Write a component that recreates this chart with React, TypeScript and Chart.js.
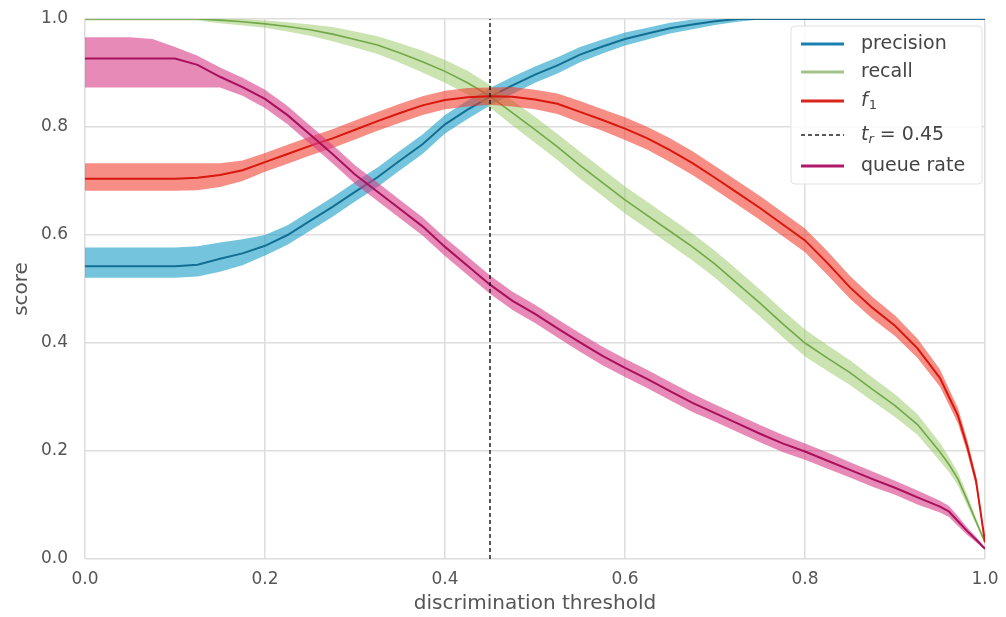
import React, { useEffect, useRef } from "react";
import { Chart, registerables } from "chart.js";

Chart.register(...registerables);

// ---------- data ----------
const thresholds = [0, 0.025, 0.05, 0.075, 0.1, 0.125, 0.15, 0.175, 0.2, 0.225, 0.25, 0.275, 0.3, 0.325, 0.35, 0.375, 0.4, 0.425, 0.45, 0.475, 0.5, 0.525, 0.55, 0.575, 0.6, 0.625, 0.65, 0.675, 0.7, 0.725, 0.75, 0.775, 0.8, 0.825, 0.85, 0.875, 0.9, 0.925, 0.95, 0.96, 0.97, 0.98, 0.99, 1.0];

const precision = [0.542, 0.542, 0.542, 0.542, 0.542, 0.545, 0.556, 0.566, 0.58, 0.6, 0.626, 0.652, 0.68, 0.707, 0.738, 0.768, 0.805, 0.832, 0.856, 0.877, 0.897, 0.914, 0.934, 0.949, 0.963, 0.973, 0.983, 0.99, 0.996, 1, 1, 1, 1, 1, 1, 1, 1, 1, 1, 1, 1, 1, 1, 1];
const precisionUpper = [0.577, 0.577, 0.577, 0.577, 0.577, 0.579, 0.586, 0.592, 0.6, 0.618, 0.644, 0.67, 0.698, 0.725, 0.756, 0.786, 0.822, 0.849, 0.872, 0.893, 0.912, 0.929, 0.948, 0.962, 0.975, 0.984, 0.993, 0.999, 1, 1, 1, 1, 1, 1, 1, 1, 1, 1, 1, 1, 1, 1, 1, 1];
const precisionLower = [0.521, 0.521, 0.521, 0.521, 0.521, 0.523, 0.532, 0.544, 0.562, 0.582, 0.608, 0.634, 0.662, 0.689, 0.72, 0.75, 0.788, 0.815, 0.84, 0.861, 0.882, 0.899, 0.92, 0.936, 0.951, 0.962, 0.973, 0.981, 0.989, 0.995, 0.999, 1, 1, 1, 1, 1, 1, 1, 1, 1, 1, 1, 1, 1];

const recall = [1, 1, 1, 1, 1, 1, 0.998, 0.995, 0.991, 0.986, 0.98, 0.972, 0.962, 0.952, 0.937, 0.921, 0.903, 0.882, 0.857, 0.826, 0.795, 0.763, 0.729, 0.697, 0.665, 0.636, 0.607, 0.578, 0.546, 0.51, 0.474, 0.436, 0.4, 0.372, 0.345, 0.314, 0.284, 0.249, 0.198, 0.175, 0.148, 0.11, 0.07, 0.031];
const recallUpper = [1, 1, 1, 1, 1, 1, 1, 1, 0.997, 0.994, 0.99, 0.985, 0.977, 0.968, 0.955, 0.941, 0.924, 0.904, 0.878, 0.849, 0.819, 0.787, 0.754, 0.722, 0.69, 0.661, 0.632, 0.603, 0.571, 0.535, 0.499, 0.461, 0.425, 0.396, 0.368, 0.336, 0.305, 0.268, 0.215, 0.189, 0.16, 0.12, 0.076, 0.033];
const recallLower = [0.997, 0.997, 0.997, 0.997, 0.997, 0.997, 0.992, 0.988, 0.984, 0.977, 0.969, 0.959, 0.947, 0.935, 0.919, 0.901, 0.882, 0.86, 0.836, 0.803, 0.771, 0.739, 0.704, 0.672, 0.64, 0.611, 0.582, 0.553, 0.521, 0.485, 0.449, 0.411, 0.375, 0.348, 0.322, 0.292, 0.263, 0.23, 0.181, 0.161, 0.136, 0.1, 0.064, 0.029];

const f1 = [0.704, 0.704, 0.704, 0.704, 0.704, 0.706, 0.711, 0.72, 0.735, 0.75, 0.765, 0.779, 0.795, 0.811, 0.826, 0.84, 0.85, 0.855, 0.857, 0.856, 0.851, 0.843, 0.828, 0.813, 0.797, 0.779, 0.757, 0.733, 0.706, 0.678, 0.65, 0.62, 0.59, 0.548, 0.503, 0.465, 0.432, 0.39, 0.335, 0.3, 0.265, 0.21, 0.145, 0.031];
const f1Upper = [0.733, 0.733, 0.733, 0.733, 0.733, 0.733, 0.733, 0.738, 0.752, 0.767, 0.782, 0.796, 0.812, 0.828, 0.843, 0.857, 0.867, 0.872, 0.873, 0.874, 0.869, 0.862, 0.848, 0.833, 0.818, 0.8, 0.779, 0.755, 0.728, 0.7, 0.672, 0.642, 0.612, 0.57, 0.524, 0.485, 0.451, 0.408, 0.351, 0.315, 0.279, 0.222, 0.155, 0.034];
const f1Lower = [0.682, 0.682, 0.682, 0.682, 0.682, 0.683, 0.689, 0.7, 0.717, 0.732, 0.747, 0.761, 0.777, 0.793, 0.808, 0.822, 0.833, 0.838, 0.841, 0.838, 0.833, 0.824, 0.808, 0.793, 0.776, 0.758, 0.735, 0.711, 0.684, 0.656, 0.628, 0.598, 0.568, 0.526, 0.482, 0.445, 0.413, 0.372, 0.319, 0.285, 0.251, 0.198, 0.135, 0.028];

const queueRate = [0.927, 0.927, 0.927, 0.927, 0.927, 0.915, 0.893, 0.874, 0.852, 0.822, 0.786, 0.75, 0.712, 0.68, 0.648, 0.616, 0.578, 0.543, 0.508, 0.478, 0.454, 0.427, 0.401, 0.376, 0.354, 0.333, 0.311, 0.289, 0.27, 0.251, 0.232, 0.214, 0.199, 0.182, 0.165, 0.148, 0.132, 0.114, 0.097, 0.088, 0.07, 0.052, 0.036, 0.019];
const queueUpper = [0.966, 0.966, 0.966, 0.963, 0.948, 0.932, 0.91, 0.891, 0.869, 0.839, 0.803, 0.767, 0.729, 0.697, 0.665, 0.633, 0.595, 0.56, 0.525, 0.495, 0.471, 0.444, 0.418, 0.393, 0.371, 0.35, 0.328, 0.306, 0.286, 0.267, 0.248, 0.23, 0.214, 0.197, 0.179, 0.162, 0.145, 0.127, 0.108, 0.098, 0.079, 0.059, 0.041, 0.021];
const queueLower = [0.873, 0.873, 0.873, 0.873, 0.873, 0.873, 0.873, 0.858, 0.835, 0.805, 0.769, 0.733, 0.695, 0.663, 0.631, 0.599, 0.561, 0.526, 0.491, 0.461, 0.437, 0.41, 0.384, 0.359, 0.337, 0.316, 0.294, 0.272, 0.254, 0.235, 0.216, 0.198, 0.184, 0.167, 0.151, 0.134, 0.119, 0.101, 0.086, 0.078, 0.061, 0.045, 0.031, 0.017];

const thresholdValue = 0.45;
const legendLabels = ["precision", "recall", "f1", "threshold", "queue rate"];
const xAxisTitle = "discrimination threshold";
const yAxisTitle = "score";

// ---------- styles ----------
const FONT = "DejaVu Sans";
const lineColors = ["#136f92", "#72a84a", "#d8170e", "#a8105c"];
const bandColors = ["rgba(30,160,200,0.62)", "rgba(150,200,100,0.5)", "rgba(240,60,45,0.58)", "rgba(215,60,135,0.6)"];
const legendColors = ["#1a80b0", "#a4c38a", "#d9241a", "#222222", "#b0196a"];
const lineWidths = [2, 1.6, 2, 2];

function pts(ys: number[]) {
  return thresholds.map((t, i) => ({ x: t, y: ys[i] }));
}

const legendPlugin = {
  id: "customLegend",
  afterDraw(chart: any) {
    const ctx = chart.ctx as CanvasRenderingContext2D;
    ctx.save();
    const bx = 791, by = 26, bw = 191, bh = 158, r = 4;
    ctx.beginPath();
    ctx.moveTo(bx + r, by);
    ctx.lineTo(bx + bw - r, by);
    ctx.quadraticCurveTo(bx + bw, by, bx + bw, by + r);
    ctx.lineTo(bx + bw, by + bh - r);
    ctx.quadraticCurveTo(bx + bw, by + bh, bx + bw - r, by + bh);
    ctx.lineTo(bx + r, by + bh);
    ctx.quadraticCurveTo(bx, by + bh, bx, by + bh - r);
    ctx.lineTo(bx, by + r);
    ctx.quadraticCurveTo(bx, by, bx + r, by);
    ctx.closePath();
    ctx.fillStyle = "rgba(255,255,255,0.85)";
    ctx.fill();
    ctx.strokeStyle = "#e2e2e2";
    ctx.lineWidth = 1;
    ctx.stroke();

    const ys = [44, 72, 101, 135, 166];
    const textX = 861;
    legendLabels.forEach((label, i) => {
      const y = ys[i];
      ctx.beginPath();
      ctx.strokeStyle = legendColors[i];
      ctx.lineWidth = i === 3 ? 1.5 : 3;
      ctx.setLineDash(i === 3 ? [4, 3] : []);
      ctx.moveTo(801, y);
      ctx.lineTo(844, y);
      ctx.stroke();
      ctx.setLineDash([]);
      ctx.fillStyle = "#444444";
      ctx.textBaseline = "middle";
      ctx.textAlign = "left";
      if (label === "f1") {
        ctx.font = `italic 19px "${FONT}"`;
        ctx.fillText("f", textX, y);
        const w = ctx.measureText("f").width;
        ctx.font = `13px "${FONT}"`;
        ctx.fillText("1", textX + w + 1, y + 5);
      } else if (label === "threshold") {
        ctx.font = `italic 19px "${FONT}"`;
        ctx.fillText("t", textX, y);
        const w = ctx.measureText("t").width;
        ctx.font = `italic 13px "${FONT}"`;
        ctx.fillText("r", textX + w, y + 5);
        const w2 = ctx.measureText("r").width;
        ctx.font = `19px "${FONT}"`;
        ctx.fillText(" = " + thresholdValue.toFixed(2), textX + w + w2, y);
      } else {
        ctx.font = `19px "${FONT}"`;
        ctx.fillText(label, textX, y);
      }
    });
    ctx.restore();
  },
};

export default function App() {
  const canvasRef = useRef<HTMLCanvasElement | null>(null);

  useEffect(() => {
    document.body.style.margin = "0";
    const canvas = canvasRef.current;
    if (!canvas) return;

    const series = [
      { line: precision, upper: precisionUpper, lower: precisionLower },
      { line: recall, upper: recallUpper, lower: recallLower },
      { line: f1, upper: f1Upper, lower: f1Lower },
      { line: queueRate, upper: queueUpper, lower: queueLower },
    ];

    const datasets: any[] = [];
    series.forEach((s, k) => {
      const lowerIdx = datasets.length;
      datasets.push({
        data: pts(s.lower),
        showLine: false,
        pointRadius: 0,
        borderWidth: 0,
        fill: false,
      });
      datasets.push({
        data: pts(s.upper),
        pointRadius: 0,
        borderWidth: 0,
        borderColor: "rgba(0,0,0,0)",
        backgroundColor: bandColors[k],
        fill: lowerIdx,
      });
      datasets.push({
        data: pts(s.line),
        pointRadius: 0,
        borderColor: lineColors[k],
        borderWidth: lineWidths[k],
        fill: false,
      });
    });
    datasets.push({
      data: [
        { x: thresholdValue, y: 0 },
        { x: thresholdValue, y: 1 },
      ],
      pointRadius: 0,
      borderColor: "#111111",
      borderWidth: 1.4,
      borderDash: [4, 3],
      fill: false,
    });
    const n = datasets.length;
    datasets.forEach((d, i) => {
      d.order = n - i;
      d.tension = 0;
    });

    const tickFont = { family: FONT, size: 17 };
    const titleFont = { family: FONT, size: 20 };

    const chart = new Chart(canvas, {
      type: "line",
      data: { datasets },
      options: {
        animation: false,
        responsive: false,
        layout: { padding: { top: 19, right: 21, left: 0, bottom: 0 } },
        plugins: {
          legend: { display: false },
          tooltip: { enabled: false },
          filler: { propagate: false },
        },
        scales: {
          x: {
            type: "linear",
            min: 0,
            max: 1,
            ticks: {
              stepSize: 0.2,
              autoSkip: false,
              maxRotation: 0,
              padding: 2,
              color: "#555555",
              font: tickFont,
              callback: (v: any) => Number(v).toFixed(1),
            },
            grid: { color: "#dddddd", lineWidth: 1.5, drawTicks: true, tickLength: 8, tickColor: "rgba(0,0,0,0)" },
            border: { display: false },
            title: {
              display: true,
              text: xAxisTitle,
              color: "#555555",
              font: titleFont,
              padding: { top: 0, bottom: 1 },
            },
            afterFit: (s: any) => {
              s.height = 58;
            },
          },
          y: {
            type: "linear",
            min: 0,
            max: 1,
            ticks: {
              stepSize: 0.2,
              autoSkip: false,
              padding: 2,
              color: "#555555",
              font: tickFont,
              callback: (v: any) => Number(v).toFixed(1),
            },
            grid: { color: "#dddddd", lineWidth: 1.5, drawTicks: true, tickLength: 15, tickColor: "rgba(0,0,0,0)" },
            border: { display: false },
            title: {
              display: true,
              text: yAxisTitle,
              color: "#555555",
              font: titleFont,
              padding: { top: 10, bottom: 0 },
            },
            afterFit: (s: any) => {
              s.width = 85;
            },
          },
        },
      },
      plugins: [legendPlugin],
    });

    return () => chart.destroy();
  }, []);

  return (
    <div style={{ position: "absolute", left: 0, top: 0, width: 1006, height: 617 }}>
      <canvas ref={canvasRef} width={1006} height={617} style={{ display: "block", width: 1006, height: 617 }} />
    </div>
  );
}
